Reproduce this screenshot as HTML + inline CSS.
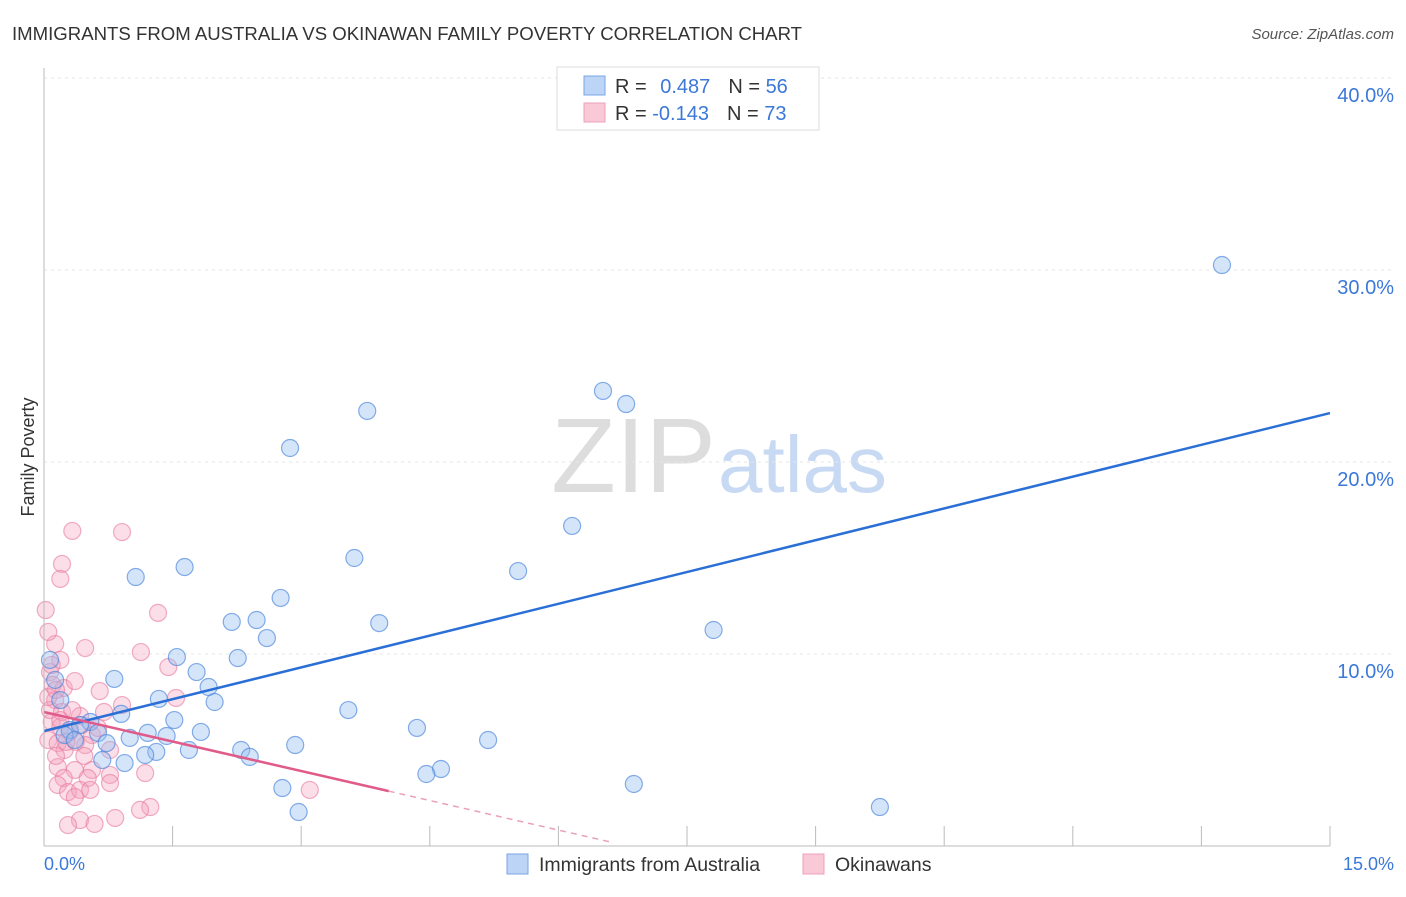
<!DOCTYPE html>
<html><head><meta charset="utf-8"><style>
body{margin:0;background:#fff;font-family:"Liberation Sans",sans-serif;}
svg text{font-family:"Liberation Sans",sans-serif;}
</style></head><body>
<svg id="chart" width="1406" height="892">
<text x="12" y="40" font-size="18.6" fill="#333">IMMIGRANTS FROM AUSTRALIA VS OKINAWAN FAMILY POVERTY CORRELATION CHART</text>
<text x="1394" y="39" font-size="15" fill="#555" font-style="italic" text-anchor="end">Source: ZipAtlas.com</text>
<text x="34" y="457" font-size="18" fill="#333" text-anchor="middle" transform="rotate(-90 34 457)">Family Poverty</text>
<text x="716" y="492" font-size="106" fill="#ddd" text-anchor="end" font-family="Liberation Serif">ZIP</text>
<text x="718" y="492" font-size="80" fill="#c8daf3">atlas</text>
<g id="grid"></g><g id="pts"></g><g id="lines"></g>
<line x1="44" y1="68" x2="44" y2="846" stroke="#bbb"/>
<line x1="44" y1="846" x2="1330" y2="846" stroke="#bbb"/>
<text x="44" y="870" font-size="18" fill="#3b78d8">0.0%</text>
<text x="1394" y="870" font-size="18" fill="#3b78d8" text-anchor="end">15.0%</text>
<g>
<rect x="557" y="67" width="262" height="63" fill="#fff" stroke="#ddd"/>
<rect x="584" y="76" width="21" height="19" fill="#bcd4f5" stroke="#7aa6e6"/>
<rect x="584" y="103" width="21" height="19" fill="#f9c9d7" stroke="#eea0b8"/>
<text x="615" y="93" font-size="20" fill="#333">R = <tspan fill="#3b78d8" dx="8">0.487</tspan><tspan dx="18">N = </tspan><tspan fill="#3b78d8">56</tspan></text>
<text x="615" y="120" font-size="20" fill="#333">R = <tspan fill="#3b78d8">-0.143</tspan><tspan dx="18">N = </tspan><tspan fill="#3b78d8">73</tspan></text>
</g>
<g>
<rect x="507" y="854" width="21" height="20" fill="#bcd4f5" stroke="#7aa6e6"/>
<text x="539" y="871" font-size="19.5" fill="#333">Immigrants from Australia</text>
<rect x="803" y="854" width="21" height="20" fill="#f9c9d7" stroke="#eea0b8"/>
<text x="835" y="871" font-size="19.5" fill="#333">Okinawans</text>
</g>
</svg>
<script>
const blueX=[13.74,6.52,6.79,3.77,2.87,6.16,3.62,5.53,1.07,1.64,2.76,2.19,2.48,3.91,2.60,7.81,1.55,2.26,1.78,0.82,1.92,1.34,1.99,0.90,3.55,1.52,0.54,1.21,0.63,1.83,1.00,1.43,0.73,2.93,4.35,5.18,2.30,1.69,1.31,1.18,2.40,0.68,0.94,4.63,4.46,6.88,2.78,2.97,9.75,0.07,0.13,0.19,0.30,0.42,0.24,0.36];
const blueY=[30.26,23.70,23.02,22.66,20.73,16.67,15.0,14.32,14.01,14.53,12.92,11.67,11.77,11.61,10.83,11.25,9.84,9.79,9.06,8.70,8.28,7.66,7.50,6.88,7.08,6.56,6.46,5.89,5.89,5.94,5.63,5.73,5.36,5.26,6.15,5.52,5.0,5.0,4.90,4.74,4.64,4.48,4.32,4.01,3.75,3.23,3.02,1.77,2.03,9.69,8.65,7.60,6.04,6.30,5.78,5.52];
const pinkX=[0.33,0.91,0.21,0.19,0.02,1.33,0.13,0.48,0.05,1.13,0.19,0.07,1.45,0.10,0.23,0.36,0.65,1.54,0.91,0.70,0.42,0.09,0.19,0.44,0.30,0.56,0.05,0.16,0.48,0.24,0.77,0.16,0.36,0.56,0.77,1.18,0.23,0.51,0.16,0.77,0.28,0.42,0.54,0.36,3.10,1.24,1.12,0.83,0.42,0.59,0.28,0.13,0.07,0.21,0.33,0.37,0.26,0.14,0.47,0.05,0.09,0.14,0.63,0.19];
const pinkY=[16.41,16.35,14.69,13.91,12.29,12.14,10.52,10.31,11.15,10.10,9.69,9.06,9.32,8.39,8.23,8.59,8.07,7.71,7.34,6.98,6.77,6.46,6.20,6.30,5.94,5.78,5.52,5.36,5.26,5.0,5.0,4.11,3.96,3.96,3.70,3.80,3.54,3.54,3.18,3.28,2.81,2.92,2.92,2.55,2.92,2.03,1.88,1.46,1.35,1.15,1.09,7.60,7.08,6.98,7.08,5.42,5.42,4.69,4.69,7.76,9.43,8.13,6.15,6.56];
const yTicks=[10,20,30,40];
const xTicks=[0,1.5,3,4.5,6,7.5,9,10.5,12,13.5,15];
const blueFit=[5.99,1.104];
const pinkFit=[6.98,-1.025];
const pinkSolidEnd=4.02, pinkDashEnd=6.6;
const xs=v=>44+v*1286/15, ys=v=>846-v*19.2;
const NS='http://www.w3.org/2000/svg';
function mk(t,a,p){const e=document.createElementNS(NS,t);for(const k in a)e.setAttribute(k,a[k]);p.appendChild(e);return e;}
const grid=document.getElementById('grid'),pts=document.getElementById('pts'),lines=document.getElementById('lines');
yTicks.forEach(v=>{
 const l=mk('line',{x1:44,x2:1394,y1:ys(v),y2:ys(v),stroke:'#e6e6e6','stroke-dasharray':'3,4'},grid);
 
 
 const t=mk('text',{x:1394,y:ys(v)+24,'font-size':20,fill:'#3b78d8','text-anchor':'end'},grid);
 t.textContent=v.toFixed(1)+'%';
 
 
});
xTicks.forEach(v=>{
 const l=mk('line',{x1:xs(v),x2:xs(v),y1:826,y2:846,stroke:'#bbb'},grid);
 
 
});
pinkX.forEach((x,i)=>{
 const c=mk('circle',{cx:xs(x),cy:ys(pinkY[i]),r:8.5,fill:'rgba(244,160,188,0.35)',stroke:'rgba(232,120,156,0.6)','stroke-width':1.2},pts);
 
 
});
blueX.forEach((x,i)=>{
 const c=mk('circle',{cx:xs(x),cy:ys(blueY[i]),r:8.5,fill:'rgba(150,190,240,0.4)',stroke:'rgba(70,130,220,0.65)','stroke-width':1.2},pts);
 
 
});
const bl=mk('line',{x1:xs(0),y1:ys(blueFit[0]),x2:xs(15),y2:ys(blueFit[0]+blueFit[1]*15),stroke:'#2a6fd6','stroke-width':2.5},lines);


const pl=mk('line',{x1:xs(0),y1:ys(pinkFit[0]),x2:xs(pinkSolidEnd),y2:ys(pinkFit[0]+pinkFit[1]*pinkSolidEnd),stroke:'#e05a8a','stroke-width':2.5},lines);


const pd=mk('line',{x1:xs(pinkSolidEnd),y1:ys(pinkFit[0]+pinkFit[1]*pinkSolidEnd),x2:xs(pinkDashEnd),y2:ys(pinkFit[0]+pinkFit[1]*pinkDashEnd),stroke:'#eaa0b8','stroke-width':1.5,'stroke-dasharray':'6,5'},lines);


</script>
</body></html>
